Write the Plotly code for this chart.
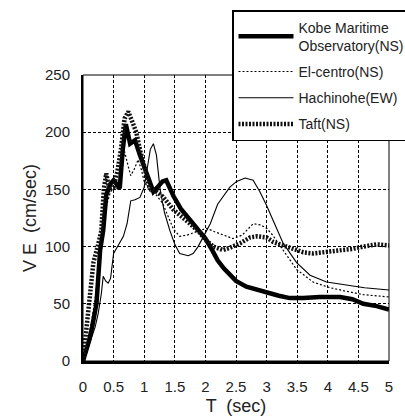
import plotly.graph_objects as go

# ---- data ----
kobe_T = [0, 0.05, 0.1, 0.15, 0.22, 0.28, 0.33, 0.38, 0.45, 0.5, 0.55, 0.6, 0.65, 0.7, 0.77, 0.85, 0.93, 1.0, 1.08, 1.15, 1.22, 1.3, 1.36, 1.48, 1.6, 1.75, 1.9, 2.0, 2.1, 2.2, 2.3, 2.4, 2.5, 2.67, 2.85, 3.06, 3.2, 3.38, 3.6, 3.87, 4.2, 4.4, 4.58, 4.8, 5.0]
kobe_V = [0, 8, 18, 30, 50, 97, 114, 145, 155, 158, 154, 151, 185, 207, 190, 193, 180, 170, 158, 148, 152, 157, 158, 144, 133, 123, 114, 107, 98, 88, 81, 75, 70, 65, 62, 59, 57, 55, 55, 56, 56, 54, 50, 48, 45]

elc_T = [0, 0.05, 0.1, 0.15, 0.2, 0.28, 0.33, 0.38, 0.45, 0.52, 0.58, 0.63, 0.68, 0.73, 0.78, 0.84, 0.9, 0.95, 1.0, 1.1, 1.2, 1.3, 1.4, 1.48, 1.58, 1.7, 1.8, 2.02, 2.15, 2.29, 2.45, 2.6, 2.78, 2.9, 3.0, 3.1, 3.27, 3.49, 3.76, 4.04, 4.3, 4.58, 5.0]
elc_V = [0, 10, 22, 38, 55, 94, 115, 135, 148, 152, 150, 165, 183, 172, 162, 168, 176, 168, 157, 148, 145, 138, 126, 115, 109, 110, 112, 116, 113, 110, 107, 110, 120, 119, 116, 110, 97, 80, 69, 64, 61, 58, 56]

hach_T = [0, 0.05, 0.1, 0.15, 0.2, 0.25, 0.3, 0.33, 0.37, 0.41, 0.45, 0.5, 0.58, 0.66, 0.72, 0.78, 0.85, 0.93, 1.0, 1.05, 1.1, 1.15, 1.2, 1.26, 1.33, 1.42, 1.5, 1.58, 1.72, 1.8, 1.88, 2.0, 2.08, 2.2, 2.29, 2.4, 2.51, 2.65, 2.78, 2.89, 3.0, 3.11, 3.27, 3.49, 3.71, 3.98, 4.31, 4.6, 5.0]
hach_V = [0, 6, 14, 22, 30, 42, 59, 74, 70, 68, 72, 94, 101, 109, 120, 140, 141, 143, 152, 170, 185, 190, 180, 150, 130, 114, 102, 94, 92, 94, 100, 112, 120, 137, 144, 152, 157, 160, 158, 148, 136, 123, 103, 86, 75, 69, 66, 64, 62]

taft_T = [0, 0.05, 0.11, 0.17, 0.24, 0.3, 0.34, 0.38, 0.43, 0.5, 0.56, 0.62, 0.68, 0.74, 0.8, 0.87, 0.93, 1.0, 1.09, 1.2, 1.3, 1.48, 1.6, 1.75, 1.91, 2.0, 2.13, 2.29, 2.4, 2.57, 2.73, 2.85, 3.0, 3.11, 3.38, 3.6, 3.76, 3.95, 4.14, 4.4, 4.58, 4.8, 5.0]
taft_V = [0, 25, 50, 86, 100, 114, 150, 164, 150, 152, 165, 185, 212, 218, 210, 200, 185, 170, 151, 148, 144, 132, 127, 120, 112, 106, 100, 97, 99, 103, 108, 109, 108, 104, 99, 95, 94, 95, 96, 98, 100, 102, 101]

names = ["Kobe Maritime<br>Observatory(NS)", "El-centro(NS)", "Hachinohe(EW)", "Taft(NS)"]
x_ticks = [0, 0.5, 1, 1.5, 2, 2.5, 3, 3.5, 4, 4.5, 5]
x_ticktext = ["0", "0.5", "1", "1.5", "2", "2.5", "3", "3.5", "4", "4.5", "5"]
y_ticks = [0, 50, 100, 150, 200, 250]

FONT = "Liberation Sans, Arial, sans-serif"
TXT = "#222222"

fig = go.Figure()
series = [
    (kobe_T, kobe_V, dict(color="black", width=4.5, dash="solid")),
    (elc_T, elc_V, dict(color="black", width=1.2, dash="2px,2px")),
    (hach_T, hach_V, dict(color="black", width=1.1, dash="solid")),
    (taft_T, taft_V, dict(color="#111111", width=4.5, dash="2px,1.5px")),
]
for i, (t, v, ln) in enumerate(series):
    fig.add_trace(go.Scatter(x=t, y=v, mode="lines", name=names[i], line=ln,
                             legendgroup=f"g{i}", showlegend=True))

fig.update_layout(
    width=405, height=419,
    margin=dict(l=83, r=16, t=75, b=58, autoexpand=False),
    paper_bgcolor="white", plot_bgcolor="white",
    font=dict(family=FONT, color=TXT, size=15),
    legend=dict(xref="container", yref="container",
                x=232 / 405, y=1 - 10 / 419, xanchor="left", yanchor="top",
                bgcolor="white", bordercolor="black", borderwidth=1.5,
                font=dict(family=FONT, size=14, color=TXT),
                itemwidth=55, tracegroupgap=5, traceorder="grouped"),
    xaxis=dict(range=[0, 5], tickvals=x_ticks, ticktext=x_ticktext, automargin=False,
               showgrid=True, gridcolor="black", griddash="3px,2px", gridwidth=1,
               zeroline=False, showline=True, linecolor="black", linewidth=3,
               ticks="", ticklabelstandoff=10,
               title=dict(text="T  (sec)", font=dict(size=18, color=TXT), standoff=6)),
    yaxis=dict(range=[0, 250], tickvals=y_ticks, automargin=False,
               showgrid=True, gridcolor="black", griddash="3px,2px", gridwidth=1,
               zeroline=False, showline=True, linecolor="black", linewidth=2,
               ticks="", ticklabelstandoff=8,
               title=dict(text="V E  (cm/sec)", font=dict(size=18, color=TXT), standoff=4)),
    shapes=[dict(type="rect", xref="paper", yref="paper", x0=0, x1=1, y0=0, y1=1,
                 line=dict(color="black", width=1), layer="above")],
)

fig.write_html("out.html")
